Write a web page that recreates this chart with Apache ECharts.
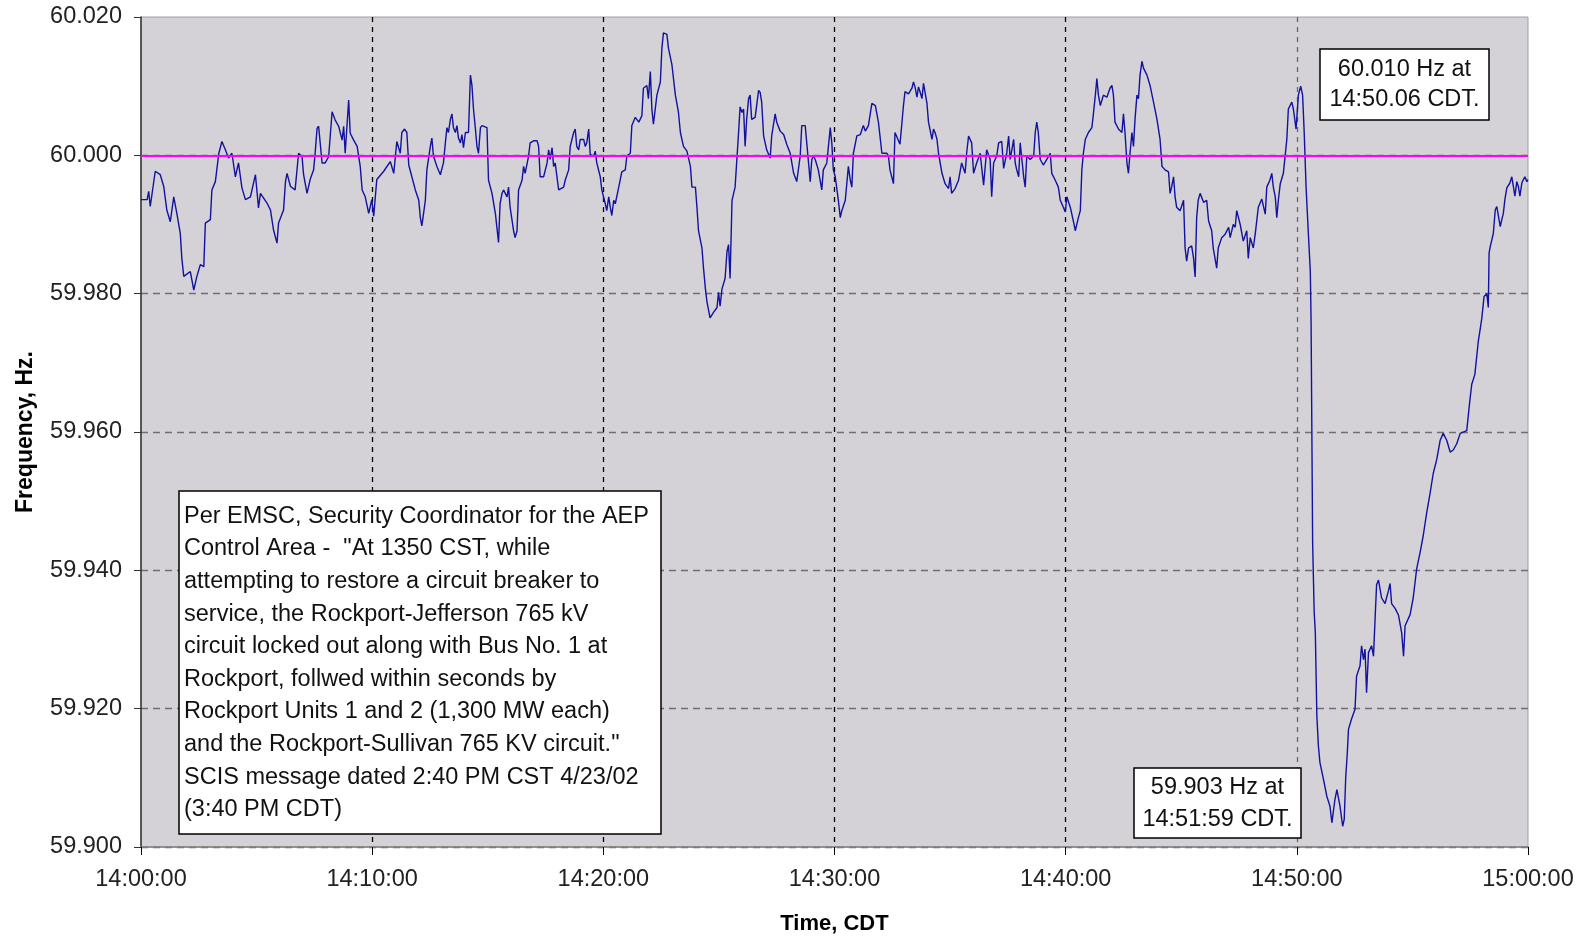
<!DOCTYPE html>
<html style="height: 100%">
<head>
    <meta charset="utf-8">
    <script type="text/javascript" src="https://cdn.jsdelivr.net/npm/echarts@6/dist/echarts.min.js"></script>
</head>
<body style="height: 100%; margin: 0; background: #fff">
<div id="container" style="height: 936px; width: 1589px"></div>
<script type="text/javascript">
    // seconds after 14:00:00 CDT
    var seconds = [
        0, 16, 20, 24, 37, 50, 59, 67, 76, 85, 93, 102, 106, 111, 128, 137, 145, 154, 163, 167,
        180, 184, 193, 202, 210, 219, 227, 236, 245, 253, 262, 271, 284, 297, 305, 310, 327, 336, 344, 353,
        357, 370, 375, 379, 388, 400, 409, 418, 422, 431, 439, 448, 452, 457, 461, 470, 478, 487, 496, 504,
        513, 522, 526, 530, 539, 543, 552, 561, 569, 574, 582, 591, 599, 604, 612, 630, 647, 656, 664, 673,
        677, 684, 690, 695, 703, 712, 721, 725, 729, 738, 742, 751, 755, 759, 768, 777, 785, 790, 794, 798,
        803, 807, 811, 816, 820, 824, 829, 833, 837, 842, 850, 855, 859, 863, 868, 872, 876, 881, 885, 898,
        902, 911, 920, 928, 932, 937, 941, 950, 954, 958, 967, 971, 976, 980, 989, 993, 997, 1006, 1010, 1019,
        1028, 1032, 1036, 1045, 1054, 1058, 1062, 1067, 1071, 1075, 1084, 1097, 1101, 1110, 1114, 1123, 1127, 1131, 1136, 1140,
        1149, 1153, 1157, 1162, 1166, 1175, 1179, 1183, 1192, 1196, 1205, 1209, 1214, 1218, 1222, 1227, 1231, 1240, 1248, 1257,
        1261, 1270, 1274, 1283, 1292, 1300, 1304, 1313, 1317, 1322, 1326, 1330, 1339, 1348, 1352, 1356, 1365, 1369, 1378, 1387,
        1395, 1400, 1408, 1417, 1426, 1430, 1439, 1443, 1447, 1456, 1460, 1465, 1469, 1477, 1486, 1495, 1499, 1503, 1508, 1516,
        1521, 1525, 1529, 1534, 1542, 1551, 1555, 1560, 1564, 1568, 1572, 1577, 1581, 1585, 1594, 1603, 1607, 1611, 1616, 1624,
        1633, 1637, 1646, 1650, 1659, 1668, 1676, 1685, 1694, 1702, 1711, 1715, 1724, 1728, 1737, 1741, 1745, 1750, 1758, 1767,
        1771, 1780, 1789, 1793, 1797, 1802, 1810, 1815, 1819, 1828, 1836, 1841, 1845, 1849, 1858, 1867, 1875, 1880, 1888, 1897,
        1906, 1914, 1923, 1936, 1940, 1944, 1953, 1957, 1962, 1970, 1979, 1983, 1992, 2001, 2005, 2009, 2014, 2018, 2022, 2027,
        2031, 2035, 2040, 2044, 2053, 2057, 2061, 2066, 2070, 2079, 2087, 2096, 2100, 2104, 2113, 2122, 2130, 2139, 2143, 2148,
        2156, 2161, 2169, 2178, 2187, 2195, 2204, 2208, 2213, 2221, 2226, 2234, 2239, 2247, 2252, 2256, 2265, 2269, 2273, 2278,
        2282, 2291, 2295, 2299, 2308, 2317, 2321, 2325, 2329, 2334, 2342, 2351, 2360, 2364, 2373, 2381, 2386, 2394, 2399, 2403,
        2412, 2420, 2425, 2433, 2438, 2442, 2446, 2451, 2459, 2468, 2472, 2477, 2481, 2485, 2490, 2498, 2507, 2515, 2520, 2524,
        2528, 2537, 2546, 2550, 2554, 2559, 2563, 2567, 2572, 2576, 2580, 2585, 2589, 2593, 2598, 2602, 2611, 2619, 2628, 2637,
        2645, 2650, 2658, 2667, 2671, 2675, 2680, 2684, 2688, 2697, 2706, 2710, 2714, 2719, 2727, 2732, 2736, 2740, 2744, 2749,
        2758, 2766, 2771, 2779, 2783, 2792, 2796, 2805, 2814, 2823, 2827, 2835, 2840, 2844, 2853, 2861, 2870, 2874, 2879, 2887,
        2892, 2900, 2909, 2918, 2922, 2930, 2935, 2939, 2944, 2948, 2952, 2957, 2965, 2974, 2978, 2987, 2991, 2998, 3004, 3010,
        3015, 3019, 3024, 3030, 3035, 3037, 3039, 3041, 3045, 3048, 3052, 3056, 3060, 3069, 3078, 3086, 3091, 3099, 3104, 3112,
        3119, 3123, 3127, 3131, 3134, 3142, 3151, 3155, 3164, 3168, 3173, 3177, 3181, 3186, 3194, 3199, 3203, 3207, 3212, 3220,
        3229, 3238, 3242, 3246, 3255, 3264, 3272, 3277, 3281, 3294, 3302, 3311, 3320, 3328, 3337, 3346, 3354, 3363, 3372, 3376,
        3380, 3389, 3398, 3406, 3415, 3424, 3441, 3449, 3454, 3462, 3471, 3480, 3486, 3493, 3497, 3499, 3502, 3510, 3515, 3519,
        3528, 3532, 3536, 3540, 3545, 3553, 3558, 3562, 3566, 3571, 3575, 3579, 3584, 3588, 3592, 3597, 3600
    ];
    var frequency = [
        59.9936, 59.9936, 59.9948, 59.9926, 59.9977, 59.9972, 59.9955, 59.9921, 59.9904, 59.9940, 59.9916, 59.9887, 59.9851, 59.9825, 59.9832, 59.9805, 59.9825, 59.9842, 59.9839, 59.9902,
        59.9907, 59.9950, 59.9962, 60.0003, 60.0020, 60.0008, 59.9996, 60.0003, 59.9969, 59.9989, 59.9953, 59.9936, 59.9940, 59.9972, 59.9924, 59.9945, 59.9931, 59.9921, 59.9892, 59.9873,
        59.9902, 59.9921, 59.9962, 59.9974, 59.9955, 59.9950, 60.0003, 59.9998, 59.9972, 59.9945, 59.9965, 59.9979, 60.0003, 60.0039, 60.0042, 59.9989, 59.9989, 59.9998, 60.0063, 60.0051,
        60.0042, 60.0022, 60.0042, 60.0003, 60.0080, 60.0032, 60.0022, 60.0013, 59.9984, 59.9950, 59.9940, 59.9916, 59.9936, 59.9912, 59.9965, 59.9977, 59.9991, 59.9974, 60.0020, 60.0003,
        60.0033, 60.0038, 60.0033, 59.9986, 59.9969, 59.9950, 59.9935, 59.9910, 59.9898, 59.9935, 59.9979, 60.0013, 60.0025, 59.9999, 59.9984, 59.9972, 59.9989, 60.0018, 60.0040, 60.0033,
        60.0052, 60.0060, 60.0040, 60.0033, 60.0043, 60.0025, 60.0018, 60.0030, 60.0011, 60.0033, 60.0033, 60.0116, 60.0101, 60.0067, 60.0038, 60.0013, 60.0003, 60.0040, 60.0043, 60.0040,
        59.9964, 59.9945, 59.9915, 59.9874, 59.9930, 59.9945, 59.9950, 59.9940, 59.9954, 59.9925, 59.9891, 59.9881, 59.9891, 59.9950, 59.9964, 59.9984, 59.9974, 59.9999, 60.0018, 60.0021,
        60.0021, 60.0013, 59.9969, 59.9969, 59.9989, 60.0008, 59.9994, 60.0011, 59.9984, 59.9989, 59.9950, 59.9954, 59.9964, 59.9979, 60.0013, 60.0033, 60.0038, 60.0013, 60.0008, 60.0023,
        60.0023, 60.0013, 60.0018, 60.0038, 60.0001, 59.9999, 60.0006, 59.9989, 59.9969, 59.9950, 59.9930, 59.9920, 59.9940, 59.9925, 59.9913, 59.9935, 59.9930, 59.9954, 59.9976, 59.9979,
        59.9999, 60.0003, 60.0043, 60.0055, 60.0048, 60.0057, 60.0097, 60.0101, 60.0082, 60.0121, 60.0067, 60.0045, 60.0087, 60.0106, 60.0155, 60.0177, 60.0175, 60.0155, 60.0131, 60.0087,
        60.0062, 60.0033, 60.0013, 60.0006, 59.9984, 59.9954, 59.9954, 59.9925, 59.9891, 59.9866, 59.9837, 59.9807, 59.9788, 59.9765, 59.9773, 59.9780, 59.9802, 59.9782, 59.9807, 59.9822,
        59.9861, 59.9871, 59.9822, 59.9935, 59.9954, 60.0033, 60.0070, 60.0062, 60.0067, 60.0013, 60.0052, 60.0082, 60.0087, 60.0052, 60.0055, 60.0094, 60.0091, 60.0077, 60.0028, 60.0008,
        59.9996, 60.0028, 60.0060, 60.0048, 60.0035, 60.0030, 60.0016, 60.0003, 59.9974, 59.9962, 59.9999, 60.0043, 60.0043, 60.0018, 59.9962, 59.9994, 59.9999, 59.9994, 59.9979, 59.9950,
        59.9979, 59.9989, 60.0040, 60.0018, 59.9979, 59.9969, 59.9935, 59.9910, 59.9920, 59.9935, 59.9984, 59.9964, 59.9954, 60.0003, 60.0028, 60.0030, 60.0043, 60.0035, 60.0043, 60.0075,
        60.0072, 60.0048, 60.0003, 60.0003, 59.9999, 59.9979, 59.9959, 60.0033, 60.0035, 60.0016, 60.0072, 60.0092, 60.0089, 60.0097, 60.0106, 60.0099, 60.0084, 60.0099, 60.0092, 60.0082,
        60.0104, 60.0106, 60.0075, 60.0048, 60.0023, 60.0038, 60.0033, 60.0023, 60.0003, 59.9974, 59.9959, 59.9952, 59.9969, 59.9945, 59.9952, 59.9964, 59.9989, 59.9974, 60.0003, 60.0028,
        60.0018, 59.9974, 59.9989, 60.0003, 59.9957, 60.0008, 59.9994, 59.9940, 59.9989, 59.9999, 60.0018, 60.0020, 59.9981, 60.0003, 60.0028, 59.9994, 60.0023, 59.9989, 59.9979, 59.9969,
        60.0018, 59.9969, 59.9954, 59.9999, 59.9994, 59.9999, 60.0033, 60.0048, 60.0033, 59.9994, 59.9986, 59.9994, 60.0003, 59.9974, 59.9964, 59.9954, 59.9935, 59.9925, 59.9918, 59.9940,
        59.9925, 59.9905, 59.9891, 59.9910, 59.9920, 59.9979, 60.0003, 60.0023, 60.0033, 60.0040, 60.0060, 60.0087, 60.0111, 60.0087, 60.0072, 60.0087, 60.0084, 60.0097, 60.0101, 60.0087,
        60.0048, 60.0038, 60.0033, 60.0060, 60.0033, 59.9989, 59.9974, 60.0003, 60.0033, 60.0013, 60.0052, 60.0087, 60.0082, 60.0116, 60.0136, 60.0126, 60.0116, 60.0101, 60.0077, 60.0052,
        60.0023, 59.9984, 59.9979, 59.9976, 59.9945, 59.9954, 59.9969, 59.9940, 59.9925, 59.9920, 59.9935, 59.9866, 59.9847, 59.9866, 59.9869, 59.9851, 59.9824, 59.9910, 59.9935, 59.9945,
        59.9932, 59.9935, 59.9905, 59.9891, 59.9866, 59.9837, 59.9866, 59.9881, 59.9886, 59.9896, 59.9881, 59.9900, 59.9896, 59.9920, 59.9900, 59.9876, 59.9891, 59.9851, 59.9881, 59.9866,
        59.9886, 59.9925, 59.9937, 59.9915, 59.9954, 59.9964, 59.9974, 59.9954, 59.9940, 59.9910, 59.9935, 59.9959, 59.9974, 60.0023, 60.0067, 60.0077, 60.0067, 60.0038, 60.0087, 60.0100,
        60.0087, 60.0035, 59.9954, 59.9886, 59.9832, 59.9760, 59.9600, 59.9440, 59.9340, 59.9310, 59.9189, 59.9146, 59.9122, 59.9098, 59.9073, 59.9059, 59.9035, 59.9069, 59.9083, 59.9059,
        59.9030, 59.9040, 59.9102, 59.9136, 59.9170, 59.9185, 59.9199, 59.9247, 59.9262, 59.9291, 59.9271, 59.9286, 59.9223, 59.9281, 59.9291, 59.9276, 59.9329, 59.9379, 59.9386, 59.9360,
        59.9352, 59.9371, 59.9381, 59.9352, 59.9345, 59.9335, 59.9310, 59.9276, 59.9320, 59.9336, 59.9360, 59.9402, 59.9426, 59.9450, 59.9483, 59.9512, 59.9540, 59.9560, 59.9588, 59.9593,
        59.9598, 59.9588, 59.9571, 59.9574, 59.9583, 59.9598, 59.9602, 59.9645, 59.9669, 59.9683, 59.9731, 59.9764, 59.9796, 59.9800, 59.9780, 59.9859, 59.9868, 59.9887, 59.9921, 59.9926,
        59.9897, 59.9907, 59.9916, 59.9936, 59.9953, 59.9960, 59.9969, 59.9955, 59.9941, 59.9962, 59.9955, 59.9941, 59.9960, 59.9965, 59.9969, 59.9962, 59.9965
    ];
    var yTicks = [59.900, 59.920, 59.940, 59.960, 59.980, 60.000, 60.020];
    var nominal = 60.000;
    var noteText = [
        'Per EMSC, Security Coordinator for the AEP',
        'Control Area -  "At 1350 CST, while',
        'attempting to restore a circuit breaker to',
        'service, the Rockport-Jefferson 765 kV',
        'circuit locked out along with Bus No. 1 at',
        'Rockport, follwed within seconds by',
        'Rockport Units 1 and 2 (1,300 MW each)',
        'and the Rockport-Sullivan 765 KV circuit."',
        'SCIS message dated 2:40 PM CST 4/23/02',
        '(3:40 PM CDT)'
    ];
    var peakText = ['60.010 Hz at', '14:50.06 CDT.'];
    var lowText = ['59.903 Hz at', '14:51:59 CDT.'];

    var font = '"Liberation Sans", Arial, sans-serif';
    var clear = 'rgba(0,0,0,0)';

    function clockLabel(v) {
        var m = Math.round(v / 60);
        var h = 14 + Math.floor(m / 60);
        m = m % 60;
        return h + ':' + (m < 10 ? '0' + m : m) + ':00';
    }

    var seriesData = seconds.map(function (s, i) {
        return [s, frequency[i]];
    });

    // white box with black frame and text, drawn over the grid lines
    function noteBox(x, y, w, h, lines, lineHeight, centered, pad) {
        return {
            type: 'group',
            x: x,
            y: y,
            z: 100,
            children: [
                {type: 'rect', z: 100, shape: {x: 0, y: 0, width: w, height: h},
                    style: {fill: '#fff', stroke: '#000', lineWidth: 1.5}},
                {type: 'text', z: 101, x: centered ? w / 2 : 5, y: pad,
                    style: {text: lines.join('\n'), font: '23.5px ' + font, fill: '#111',
                        lineHeight: lineHeight, align: centered ? 'center' : 'left'}}
            ]
        };
    }

    var dom = document.getElementById("container");
    var myChart = echarts.init(dom);
    var option = {
        animation: false,
        backgroundColor: '#ffffff',
        grid: {
            left: 141,
            right: 61,
            top: 17,
            bottom: 89,
            outerBoundsMode: 'none',
            containLabel: false,
            show: true,
            backgroundColor: '#d4d1d7',
            borderColor: '#a0a0a0',
            borderWidth: 1
        },
        xAxis: {
            type: 'value',
            min: 0,
            max: 3600,
            interval: 600,
            name: 'Time, CDT',
            nameLocation: 'middle',
            nameGap: 66,
            nameTextStyle: {fontFamily: font, fontSize: 22, fontWeight: 'bold', color: '#000'},
            axisLine: {onZero: false, lineStyle: {color: '#808080', width: 1.5}},
            axisTick: {show: true, length: 8, lineStyle: {color: '#000'}},
            axisLabel: {
                formatter: clockLabel,
                fontFamily: font,
                fontSize: 23.5,
                color: '#222',
                margin: 21
            },
            splitLine: {
                show: true,
                lineStyle: {
                    color: [clear, '#000', '#000', '#000', '#000', '#666', clear],
                    type: [5, 5],
                    width: 1.3
                }
            }
        },
        yAxis: {
            type: 'value',
            min: yTicks[0],
            max: yTicks[yTicks.length - 1],
            interval: 0.02,
            name: 'Frequency, Hz.',
            nameLocation: 'middle',
            nameRotate: 90,
            nameGap: 104,
            nameTextStyle: {fontFamily: font, fontSize: 23, fontWeight: 'bold', color: '#000'},
            axisLine: {show: true, lineStyle: {color: '#333', width: 1.5}},
            axisTick: {show: true, length: 7, lineStyle: {color: '#333'}},
            axisLabel: {
                formatter: function (v) { return v.toFixed(3); },
                fontFamily: font,
                fontSize: 23.5,
                color: '#222',
                margin: 19
            },
            splitLine: {
                show: true,
                lineStyle: {color: ['#707070', '#707070', '#707070', '#707070', '#707070', '#707070', clear],
                    type: [7, 5], width: 1.3}
            }
        },
        series: [
            {
                type: 'line',
                data: seriesData,
                showSymbol: false,
                symbol: 'none',
                lineStyle: {color: '#12129e', width: 1.4},
                z: 3,
                markLine: {
                    silent: true,
                    symbol: 'none',
                    label: {show: false},
                    lineStyle: {color: '#ff00ff', width: 2, type: 'solid'},
                    data: [{yAxis: nominal}]
                }
            }
        ],
        graphic: [
            noteBox(179, 491, 482, 343, noteText, 32.6, false, 9),
            noteBox(1320, 49, 169, 71, peakText, 30, true, 6),
            noteBox(1134, 768, 167, 70, lowText, 32, true, 4)
        ]
    };
    myChart.setOption(option);
</script>
</body>
</html>
